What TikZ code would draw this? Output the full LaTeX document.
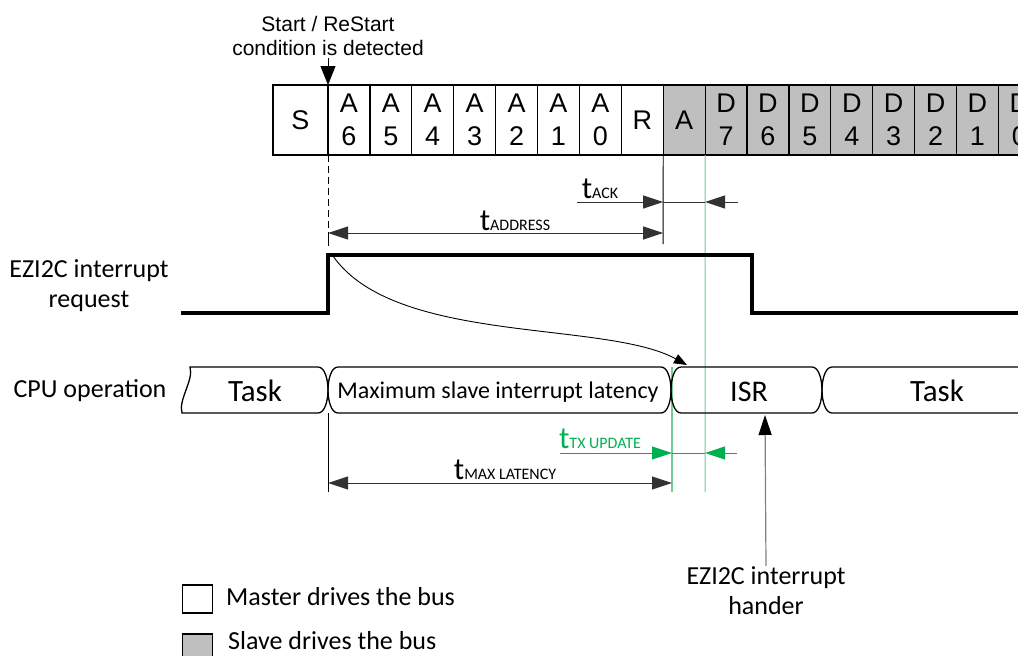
\documentclass[tikz,border=0pt]{standalone}
\usepackage{fontspec}
\setmainfont{Carlito}
\newfontfamily\arialfont{Liberation Sans}
\usepackage{tikz}
\usetikzlibrary{arrows.meta, positioning, calc}
\usepackage{xcolor}
\definecolor{slavegray}{RGB}{191,191,191}
\definecolor{txgreen}{RGB}{0,176,80}
\definecolor{guidegreen}{RGB}{112,206,148}
\definecolor{dimline}{RGB}{50,50,50}
\newcommand{\tsub}[1]{{\fontsize{31}{31}\selectfont t}{\fontsize{16}{16}\selectfont #1}}

\begin{document}
\begin{tikzpicture}[
    x=1pt, y=-1pt,
    mcell/.style={draw, line width=1.2pt, minimum width=41.9pt, minimum height=70pt, inner sep=0pt, outer sep=0pt, align=center, font=\arialfont\fontsize{27}{33}\selectfont},
    scell/.style={mcell, fill=slavegray},
    seg/.style={line width=1.3pt},
    sig/.style={line width=3.5pt, line join=miter},
    dim/.style={dimline, line width=0.9pt, -{Triangle[length=20pt, width=13pt]}},
    ddim/.style={dimline, line width=0.9pt, {Triangle[length=20pt, width=13pt]}-{Triangle[length=20pt, width=13pt]}},
    gdim/.style={txgreen, line width=0.9pt, -{Triangle[length=20pt, width=13pt]}},
    guide/.style={guidegreen, line width=1.1pt},
    lbl/.style={font=\fontsize{26}{30}\selectfont, align=center, inner sep=1pt},
]
    \useasboundingbox (0,0) rectangle (1018,656);
    \clip (0,0) rectangle (1018,656);

    % Bit cells
    \node[mcell, minimum width=55pt] (s) at (300.5,120) {S};
    \foreach \lab [count=\i from 0] in {{A\\6},{A\\5},{A\\4},{A\\3},{A\\2},{A\\1},{A\\0},R}
        \node[mcell] (b\i) at (348.95+41.9*\i,120) {\lab};
    \foreach \lab [count=\i from 8] in {A,{D\\7},{D\\6},{D\\5},{D\\4},{D\\3},{D\\2},{D\\1},{D\\0}}
        \node[scell] (b\i) at (348.95+41.9*\i,120) {\lab};

    % Start condition
    \node[font=\arialfont\fontsize{21}{24}\selectfont, align=center, inner sep=0pt] (startlbl) at (328,36) {Start / ReStart\\condition is detected};
    \coordinate (startin) at (328,58);
    \draw[line width=0.9pt, -{Triangle[length=19pt, width=15pt]}] (startin) -- (b0.north west);

    % Guide lines
    \coordinate (adrL) at (328,233);
    \coordinate (adrR) at (663.15,233);
    \draw[line width=0.9pt, dash pattern=on 7pt off 4pt] (b0.south west) -- (adrL);
    \draw[line width=0.9pt] (adrL) -- (328,246);
    \draw[line width=0.9pt] (b8.south west) -- (663.15,244);
    \draw[guide] (b9.south west) -- (705.05,492);
    \draw[guide] (672,367) -- (672,492);
    \draw[line width=0.9pt] (328,413) -- (328,492);

    % Interrupt request signal
    \node[lbl] (irqlbl) at (89,286) {EZI2C interrupt\\request};
    \draw[sig] (181,313) -- (328,313) -- (328,255) -- (752,255) -- (752,313) -- (1018,313);

    % CPU operation
    \node[lbl, anchor=base] (cpulbl) at (90,397) {CPU operation};
    \draw[seg] (182,413) .. controls (178,400) and (194,380) .. (190,367) -- (318,367)
        .. controls (325,367) and (328,380) .. (328,390) .. controls (328,400) and (325,413) .. (318,413) -- cycle;
    \foreach \xa/\xb in {328/671, 671/822}
        \draw[seg] (\xa+10,367) -- (\xb-10,367) .. controls (\xb-3,367) and (\xb,380) .. (\xb,390)
            .. controls (\xb,400) and (\xb-3,413) .. (\xb-10,413) -- (\xa+10,413)
            .. controls (\xa+3,413) and (\xa,400) .. (\xa,390) .. controls (\xa,380) and (\xa+3,367) .. cycle;
    \draw[seg] (1030,367) -- (832,367) .. controls (825,367) and (822,380) .. (822,390)
        .. controls (822,400) and (825,413) .. (832,413) -- (1030,413);
    \node[font=\fontsize{31}{32}\selectfont, anchor=base] (task1) at (255,401) {Task};
    \node[font=\fontsize{24}{28}\selectfont, anchor=base] (latency) at (498,398) {Maximum slave interrupt latency};
    \node[font=\fontsize{30}{32}\selectfont, anchor=base] (isr) at (749,401) {ISR};
    \node[font=\fontsize{31}{32}\selectfont, anchor=base] (task2) at (937,401) {Task};

    % Interrupt to ISR
    \coordinate (irqstart) at (333,256);
    \coordinate (isrtop) at (687,365);
    \draw[line width=0.9pt, -{Triangle[length=13pt, width=10pt]}] (irqstart) .. controls (395,345) and (605,320) .. (isrtop);

    % Timing arrows
    \draw[ddim] (adrL) -- (adrR);
    \node[anchor=base, inner sep=0pt] (tadr) at (515,230) {\tsub{ADDRESS}};
    \coordinate (ackL) at (577,202);
    \coordinate (ackM) at (663.15,202);
    \coordinate (ackG) at (705.05,202);
    \coordinate (ackR) at (738,202);
    \draw[dim] (ackL) -- (ackM);
    \draw[dimline, line width=0.9pt] (ackM) -- (ackG);
    \draw[dim] (ackR) -- (ackG);
    \node[anchor=base, inner sep=0pt] (tack) at (600,198) {\tsub{ACK}};
    \coordinate (txL) at (560,453);
    \coordinate (txM) at (672,453);
    \coordinate (txG) at (705.05,453);
    \coordinate (txR) at (737,453);
    \draw[gdim] (txL) -- (txM);
    \draw[txgreen, line width=0.9pt] (txM) -- (txG);
    \draw[gdim] (txR) -- (txG);
    \node[anchor=base, inner sep=0pt, text=txgreen] (ttx) at (600,448) {\tsub{TX UPDATE}};
    \coordinate (latL) at (328,483);
    \coordinate (latR) at (672,483);
    \draw[ddim] (latL) -- (latR);
    \node[anchor=base, inner sep=0pt] (tlat) at (505,479) {\tsub{MAX LATENCY}};

    % Interrupt handler
    \node[lbl] (hander) at (766,591) {EZI2C interrupt\\hander};
    \draw[gray, line width=1.2pt, -{Triangle[length=20pt, width=13pt, color=black]}] (hander.north) -- (765,415);

    % Legend
    \node[draw, line width=1.2pt, minimum width=30pt, minimum height=28pt, inner sep=0pt] (mkey) at (197.5,599) {};
    \node[draw, line width=1.2pt, fill=slavegray, minimum width=30pt, minimum height=28pt, inner sep=0pt] (skey) at (197.5,648) {};
    \node[anchor=base west, font=\fontsize{26}{30}\selectfont, inner sep=0pt] (mtext) at (226,605) {Master drives the bus};
    \node[anchor=base west, font=\fontsize{26}{30}\selectfont, inner sep=0pt] (stext) at (228,649) {Slave drives the bus};
\end{tikzpicture}
\end{document}
